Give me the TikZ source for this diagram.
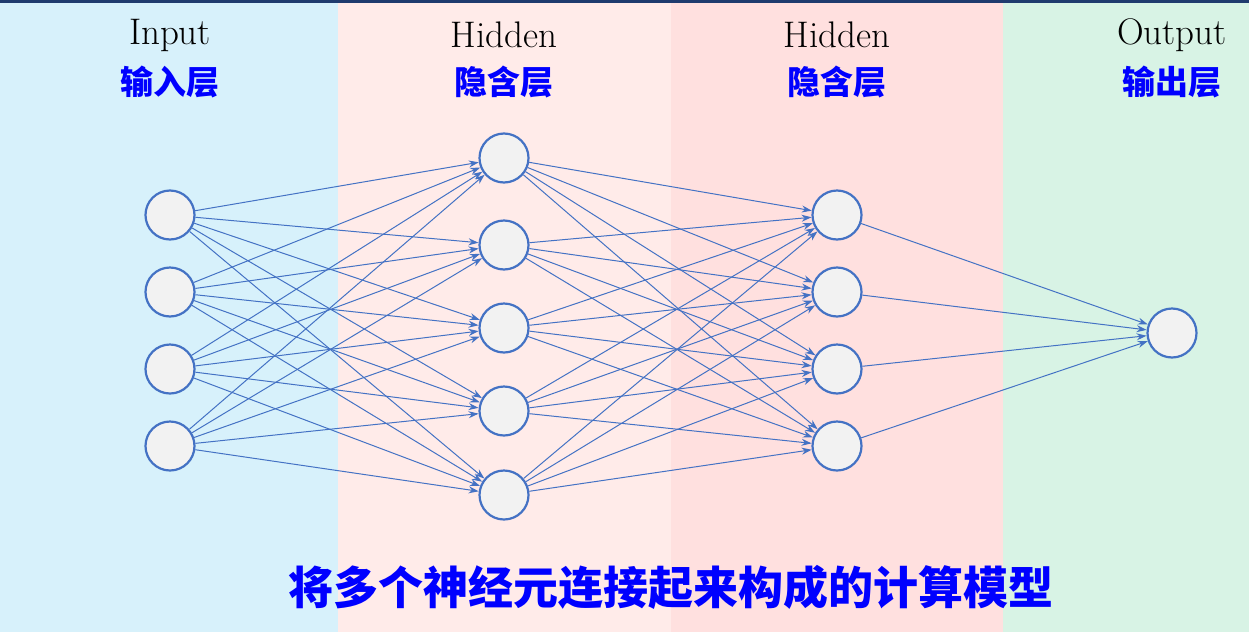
\documentclass[tikz,border=0pt]{standalone}
\usepackage{fontspec}
\newfontfamily\cjk{Noto Sans CJK SC}
\usetikzlibrary{arrows.meta}
\definecolor{bgblue}{HTML}{D7F1FB}
\definecolor{bgpink}{HTML}{FFEBE9}
\definecolor{bgrose}{HTML}{FFE0DF}
\definecolor{bggreen}{HTML}{D8F3E5}
\definecolor{navy}{HTML}{1F3B6E}
\definecolor{nblue}{HTML}{4472C4}
\definecolor{ngray}{HTML}{F2F2F2}
\definecolor{cnblue}{HTML}{0000FF}

\begin{document}
\begin{tikzpicture}[x=1pt,y=-1pt,
  neuron/.style={circle,draw=nblue,fill=ngray,line width=2.2pt,minimum size=49pt,inner sep=0pt},
  link/.style={draw=nblue,line width=1pt,-{Stealth[length=10pt,width=7pt]}},
  entitle/.style={font=\fontsize{37}{40}\selectfont},
  cntitle/.style={text=cnblue,font=\cjk\bfseries\fontsize{33}{36}\selectfont}]
% background bands
\fill[bgblue] (0,0) rectangle (338,632);
\fill[bgpink] (338,0) rectangle (671,632);
\fill[bgrose] (671,0) rectangle (1003,632);
\fill[bggreen] (1003,0) rectangle (1249,632);
\fill[navy] (0,0) rectangle (1249,3);
% titles
\node[entitle] (tin) at (170,35) {Input};
\node[cntitle] (cin) at (170,82) {输入层};
\node[entitle] (tha) at (504,35) {Hidden};
\node[cntitle] (cha) at (504,82) {隐含层};
\node[entitle] (thb) at (837,35) {Hidden};
\node[cntitle] (chb) at (837,82) {隐含层};
\node[entitle] (tout) at (1172,35) {Output};
\node[cntitle] (cout) at (1172,82) {输出层};
% neurons
\foreach \i/\y in {1/215,2/292,3/369,4/446}
  \node[neuron] (in\i) at (170,\y) {};
\foreach \i/\y in {1/158,2/245,3/328,4/411,5/495}
  \node[neuron] (ha\i) at (504,\y) {};
\foreach \i/\y in {1/215,2/292,3/369,4/446}
  \node[neuron] (hb\i) at (837,\y) {};
\node[neuron] (out) at (1172,333) {};
% connections
\foreach \i in {1,...,4}
  \foreach \j in {1,...,5}
    \draw[link] (in\i) -- (ha\j);
\foreach \i in {1,...,5}
  \foreach \j in {1,...,4}
    \draw[link] (ha\i) -- (hb\j);
\foreach \i in {1,...,4}
  \draw[link] (hb\i) -- (out);
% caption
\node[text=cnblue,font=\cjk\bfseries\fontsize{45}{50}\selectfont] (cap) at (671,587) {将多个神经元连接起来构成的计算模型};
\end{tikzpicture}
\end{document}
